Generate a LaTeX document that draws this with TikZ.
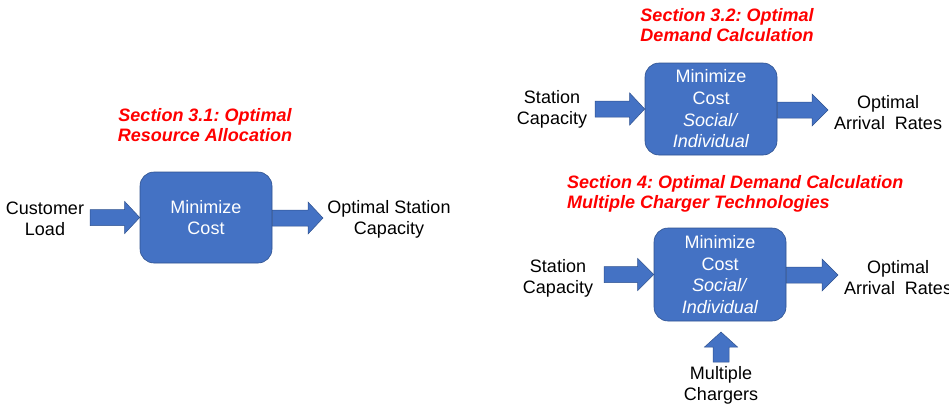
\documentclass[tikz,border=0pt]{standalone}
\usepackage{fontspec}
\setmainfont{Liberation Sans}
\usetikzlibrary{calc}
\frenchspacing
\definecolor{boxblue}{HTML}{4472C4}
\definecolor{boxedge}{HTML}{2F528F}
\definecolor{titlered}{HTML}{FF0000}
\tikzset{
  blockbox/.style={rounded corners=14pt, fill=boxblue, draw=boxedge, line width=0.6pt,
    minimum width=132pt, inner sep=0pt, text=white, align=center,
    font=\fontsize{18}{21.7}\selectfont},
  lbl/.style={align=center, inner sep=0pt, font=\fontsize{18}{21}\selectfont},
  sectitle/.style={text=titlered, inner sep=0pt, font=\fontsize{18}{20.5}\selectfont\bfseries\itshape},
  blockarrow/.style={fill=boxblue, draw=boxedge, line width=0.5pt, line join=miter},
}
\newcommand\harrow[3]{% from, to, head length
  \filldraw[blockarrow] let \p1=(#1), \p2=(#2) in
    (\x1,\y2+8pt) -- (\x2-#3,\y2+8pt) -- (\x2-#3,\y2+16pt) -- (\x2,\y2)
    -- (\x2-#3,\y2-16pt) -- (\x2-#3,\y2-8pt) -- (\x1,\y2-8pt) -- cycle;}
\newcommand\varrow[3]{% from (bottom), to (tip), head length
  \filldraw[blockarrow] let \p1=(#1), \p2=(#2) in
    (\x1-8pt,\y1) -- (\x1-8pt,\y2-#3) -- (\x1-16.5pt,\y2-#3) -- (\x1,\y2)
    -- (\x1+16.5pt,\y2-#3) -- (\x1+8pt,\y2-#3) -- (\x1+8pt,\y1) -- cycle;}
\begin{document}
\begin{tikzpicture}[x=1pt,y=-1pt]
\useasboundingbox (0,0) rectangle (949,408);

% ---- Section 3.1
\node[sectitle, align=center] (t1) at (205,125) {Section 3.1: Optimal\\Resource Allocation};
\node[blockbox, minimum height=91pt] (b1) at (206,217.5) {Minimize\\Cost};
\node[lbl] (in1) at (45,219) {Customer\\Load};
\node[lbl] (out1) at (389,219) {Optimal Station\\Capacity};
\coordinate (a1s) at (90,218);
\coordinate (a1t) at (323,218);
\harrow{a1s}{b1.west}{15pt}
\harrow{b1.east}{a1t}{15pt}

% ---- Section 3.2
\node[sectitle, align=center] (t2) at (727,25) {Section 3.2: Optimal\\Demand Calculation};
\node[blockbox, minimum height=92pt] (b2) at (711,109) {Minimize\\Cost\\\textit{Social/}\\\textit{Individual}};
\node[lbl] (in2) at (552,109.5) {Station\\Capacity};
\node[lbl] (out2) at (888,112.5) {Optimal\\Arrival~ Rates};
\coordinate (a2s) at (595,110);
\coordinate (a2t) at (828,110);
\harrow{a2s}{b2.west}{15pt}
\harrow{b2.east}{a2t}{16pt}

% ---- Section 4
\node[sectitle, align=left, anchor=west] (t3) at (567,194) {Section 4: Optimal Demand Calculation\\Multiple Charger Technologies};
\node[blockbox, minimum height=93pt] (b3) at (720,274.5) {Minimize\\Cost\\\textit{Social/}\\\textit{Individual}};
\node[lbl] (in3) at (558,278.5) {Station\\Capacity};
\node[lbl] (out3) at (898,278) {Optimal\\Arrival~ Rates};
\node[lbl] (in4) at (721,385.5) {Multiple\\Chargers};
\coordinate (a3s) at (604,275);
\coordinate (a3t) at (838,275);
\coordinate (a4s) at (721,362);
\coordinate (a4t) at (721,332);
\harrow{a3s}{b3.west}{16pt}
\harrow{b3.east}{a3t}{16pt}
\varrow{a4s}{a4t}{15pt}
\end{tikzpicture}
\end{document}
